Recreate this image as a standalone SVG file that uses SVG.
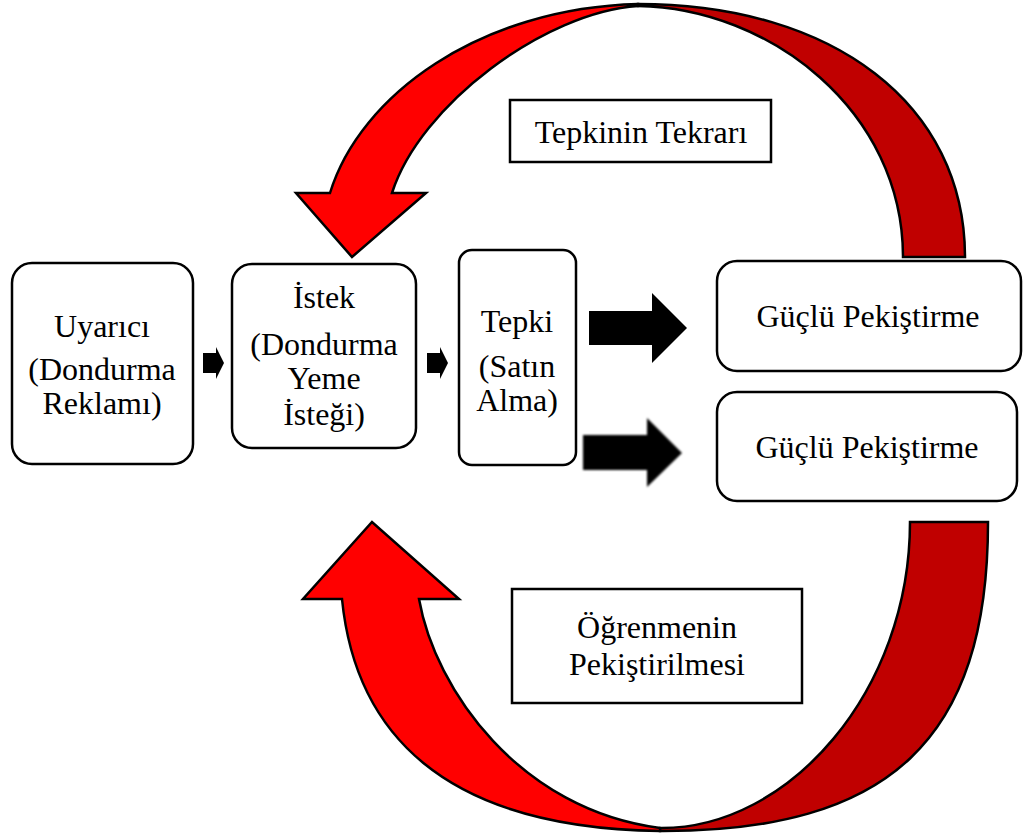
<svg xmlns="http://www.w3.org/2000/svg" width="1023" height="838" viewBox="0 0 1023 838">
<style>
.box{fill:#fff;stroke:#000;stroke-width:2.5}
.t{font-family:"Liberation Serif","Times New Roman",serif;font-size:32px;fill:#000;text-anchor:middle}
.red{fill:#ff0000;stroke:#000;stroke-width:2.5;stroke-linejoin:miter}
.dark{fill:#c00000;stroke:#000;stroke-width:2.5;stroke-linejoin:miter}
.blk{fill:#000}
</style>
<defs>
<filter id="soft" x="-10%" y="-10%" width="120%" height="120%"><feGaussianBlur stdDeviation="1.1"/></filter>
</defs>
<rect width="1023" height="838" fill="#fff"/>
<g id="connectors">
<path class="dark" d="M638,4 C834,4 965,105 965,257 L903,257 C903,111 770,8 638,6 Z"/>
<path class="red" d="M638,6 C545,12 420,105 392,193 L426,193 L352,257 L296,193 L330,193 C360,95 480,8 638,4 Z"/>
<path class="dark" d="M660,831 C890,832 988,739 988,522 L910,522 C910,690 790,829 660,828 Z"/>
<path class="red" d="M660,828 C520,810 435,690 419,599 L459,599 L372,522 L303,599 L342,599 C355,730 440,828 660,831 Z"/>
<path class="blk" d="M203,353 L216,353 L216,347 L224,363 L216,379 L216,373 L203,373 Z"/>
<path class="blk" d="M427,353 L440,353 L440,347 L448,363 L440,379 L440,373 L427,373 Z"/>
<path class="blk" d="M589,311 L652,311 L652,293 L687,328 L652,363 L652,345 L589,345 Z"/>
<path class="blk" filter="url(#soft)" d="M583,435 L647,435 L647,418 L682,453 L647,487 L647,470 L583,470 Z"/>
</g>
<g id="uyarici">
<rect class="box" x="12" y="263" width="181" height="201" rx="20"/>
<text class="t" x="102" y="337">Uyarıcı</text>
<text class="t" x="102" y="380">(Dondurma</text>
<text class="t" x="102" y="414">Reklamı)</text>
</g>
<g id="istek">
<rect class="box" x="232" y="264" width="184" height="184" rx="20"/>
<text class="t" x="324" y="308">İstek</text>
<text class="t" x="324" y="355">(Dondurma</text>
<text class="t" x="324" y="389">Yeme</text>
<text class="t" x="324" y="425">İsteği)</text>
</g>
<g id="tepki">
<rect class="box" x="459" y="250" width="117" height="215" rx="13"/>
<text class="t" x="517" y="332">Tepki</text>
<text class="t" x="517" y="377">(Satın</text>
<text class="t" x="517" y="411">Alma)</text>
</g>
<g id="guclu1">
<rect class="box" x="717" y="261" width="304" height="110" rx="20"/>
<text class="t" x="868" y="327">Güçlü Pekiştirme</text>
</g>
<g id="guclu2">
<rect class="box" x="717" y="392" width="300" height="109" rx="20"/>
<text class="t" x="867" y="458">Güçlü Pekiştirme</text>
</g>
<g id="tekrar">
<rect class="box" x="510" y="100" width="261" height="62"/>
<text class="t" x="641" y="143">Tepkinin Tekrarı</text>
</g>
<g id="ogrenme">
<rect class="box" x="512" y="589" width="290" height="114"/>
<text class="t" x="657" y="638">Öğrenmenin</text>
<text class="t" x="657" y="675">Pekiştirilmesi</text>
</g>
</svg>
